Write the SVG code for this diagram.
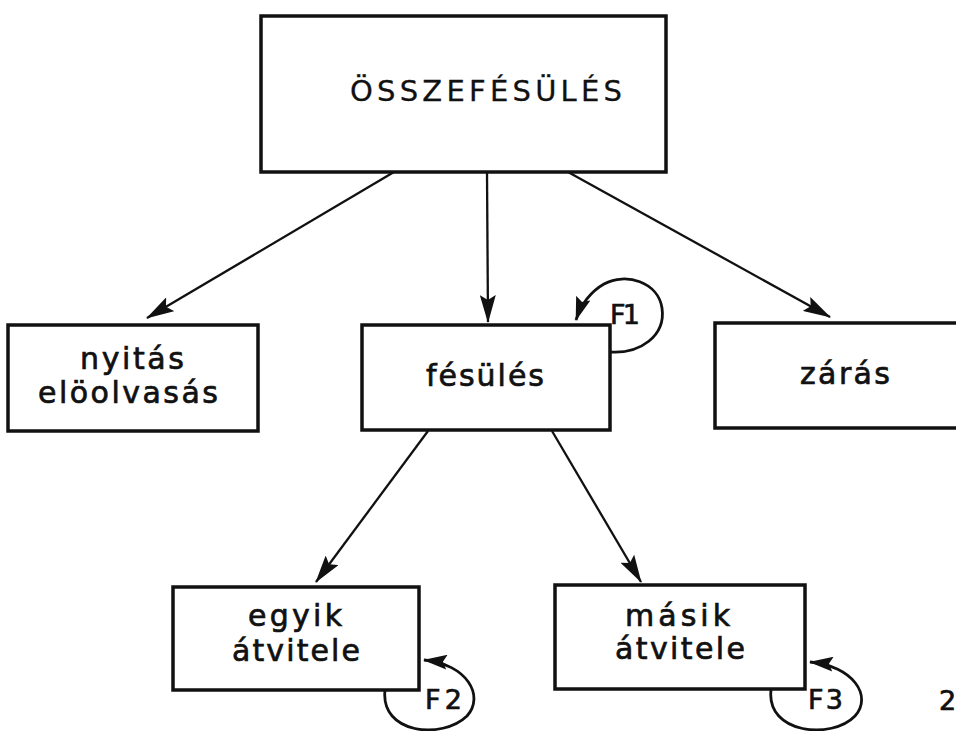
<svg xmlns="http://www.w3.org/2000/svg" width="956" height="731" viewBox="0 0 956 731">
  <style>
    .box { fill: #ffffff; stroke: #111111; stroke-width: 3.5; }
    text { fill: #111111; stroke: #111111; font-family: "DejaVu Sans", "Open Sans", sans-serif; }
    .lbl { font-size: 30px; stroke-width: 0.7; }
    .title { font-size: 29px; stroke-width: 0.3; }
    .small { font-size: 27px; stroke-width: 0.7; }
    .edge { fill: none; stroke: #111111; stroke-width: 2.3; }
    .loop { fill: none; stroke: #111111; stroke-width: 2.8; }
  </style>
  <defs>
    <marker id="arrow" viewBox="0 0 28 16" refX="27" refY="8" markerWidth="28" markerHeight="16" markerUnits="userSpaceOnUse" orient="auto">
      <path d="M0,0 L28,8 L0,16 L5,8 Z" fill="#111111"/>
    </marker>
    <marker id="arrowS" viewBox="0 0 24 15" refX="23" refY="7.5" markerWidth="24" markerHeight="15" markerUnits="userSpaceOnUse" orient="auto">
      <path d="M0,0 L24,7.5 L0,15 L4,7.5 Z" fill="#111111"/>
    </marker>
  </defs>

  <rect width="956" height="731" fill="#ffffff"/>

  <g id="connectors">
    <line class="edge" x1="394" y1="172" x2="147" y2="318" marker-end="url(#arrow)"/>
    <line class="edge" x1="487" y1="172" x2="488" y2="322" marker-end="url(#arrow)"/>
    <line class="edge" x1="568" y1="172" x2="830" y2="317" marker-end="url(#arrow)"/>
    <line class="edge" x1="428" y1="431" x2="316" y2="582" marker-end="url(#arrow)"/>
    <line class="edge" x1="552" y1="431" x2="641" y2="582" marker-end="url(#arrow)"/>
    <!-- self loops -->
    <path class="loop" d="M610,352 C640,354 666,336 662,308 C658,282 626,272 604,284 C590,292 581,305 576,320" marker-end="url(#arrowS)"/>
    <path class="loop" d="M385,690 C380,734 442,740 467,716 C485,696 467,664 424,660" marker-end="url(#arrowS)"/>
    <path class="loop" d="M771,690 C766,734 832,740 855,716 C873,696 853,666 810,662" marker-end="url(#arrowS)"/>
  </g>

  <g id="node-osszefesules">
    <rect class="box" x="261" y="16" width="405" height="156"/>
    <text class="title" x="350" y="101" textLength="272" lengthAdjust="spacing">ÖSSZEFÉSÜLÉS</text>
  </g>

  <g id="node-nyitas">
    <rect class="box" x="8" y="325" width="250" height="106"/>
    <text class="lbl" x="80" y="369" textLength="104" lengthAdjust="spacing">nyitás</text>
    <text class="lbl" x="38" y="403" textLength="180" lengthAdjust="spacing">elöolvasás</text>
  </g>

  <g id="node-fesules">
    <rect class="box" x="362" y="325" width="248" height="105"/>
    <text class="lbl" x="426" y="386" textLength="118" lengthAdjust="spacing">fésülés</text>
    <text class="small" x="610" y="324" textLength="30" lengthAdjust="spacing">F1</text>
  </g>

  <g id="node-zaras">
    <rect class="box" x="715" y="323" width="260" height="105"/>
    <text class="lbl" x="800" y="384" textLength="90" lengthAdjust="spacing">zárás</text>
  </g>

  <g id="node-egyik">
    <rect class="box" x="173" y="587" width="246" height="103"/>
    <text class="lbl" x="248" y="626" textLength="94" lengthAdjust="spacing">egyik</text>
    <text class="lbl" x="232" y="661" textLength="128" lengthAdjust="spacing">átvitele</text>
    <text class="small" x="425" y="709" textLength="37" lengthAdjust="spacing">F2</text>
  </g>

  <g id="node-masik">
    <rect class="box" x="555" y="585" width="250" height="104"/>
    <text class="lbl" x="625" y="626" textLength="105" lengthAdjust="spacing">másik</text>
    <text class="lbl" x="615" y="659" textLength="130" lengthAdjust="spacing">átvitele</text>
    <text class="small" x="808" y="709" textLength="35" lengthAdjust="spacing">F3</text>
  </g>

  <text class="small" x="939" y="710">2</text>
</svg>
